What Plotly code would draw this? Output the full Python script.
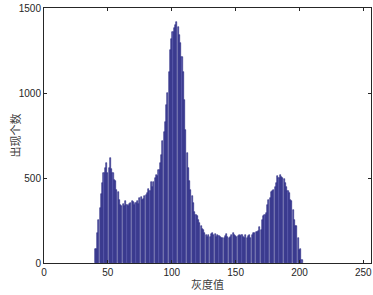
import plotly.graph_objects as go

gray_start = 40
counts = [
    82, 85, 176, 255, 323, 407, 470, 528, 560, 591,      # 40-49
    528, 558, 620, 552, 532, 490, 484, 430, 415, 372,    # 50-59
    343, 333, 348, 333, 362, 343, 337, 348, 355, 362,    # 60-69
    356, 343, 352, 362, 348, 382, 388, 372, 376, 392,    # 70-79
    401, 411, 435, 421, 474, 446, 474, 500, 519, 509,    # 80-89
    548, 587, 636, 715, 770, 832, 930, 1000, 1126, 1253, # 90-99
    1316, 1360, 1380, 1400, 1420, 1390, 1341, 1292, 1214, 1126,  # 100-109
    960, 783, 646, 558, 480, 430, 392, 352, 300, 285,    # 110-119
    274, 255, 235, 215, 200, 196, 176, 166, 153, 166,    # 120-129
    153, 170, 176, 166, 170, 153, 166, 157, 153, 145,    # 130-139
    145, 150, 157, 168, 151, 145, 153, 164, 176, 166,    # 140-149
    157, 153, 160, 164, 157, 164, 153, 145, 164, 145,    # 150-159
    157, 164, 149, 165, 176, 176, 180, 180, 186, 211,    # 160-169
    196, 255, 274, 284, 294, 343, 372, 382, 415, 421,    # 170-179
    431, 450, 470, 509, 499, 519, 505, 499, 493, 470,    # 180-189
    450, 421, 411, 372, 362, 313, 255, 215, 215, 147,    # 190-199
    78, 82, 16,                                          # 200-202
]
grays = list(range(gray_start, gray_start + len(counts)))

x_ticks = [0, 50, 100, 150, 200, 250]
y_ticks = [0, 500, 1000, 1500]
x_title = "灰度值"
y_title = "出现个数"

fig = go.Figure(go.Bar(
    x=grays, y=counts, width=0.85,
    marker=dict(color="#5b5bab", line=dict(color="#22227e", width=0.6)),
))

axis_common = dict(
    showline=True, linecolor="#262626", linewidth=1, mirror="ticks",
    ticks="inside", ticklen=3, tickcolor="#262626", showgrid=False,
    zeroline=False, automargin=False,
    tickfont=dict(family="Liberation Sans, Arial", size=10, color="#262626"),
)

title_font = dict(family="Noto Sans CJK SC", size=11, color="#404040")

fig.update_layout(
    width=373, height=295,
    margin=dict(l=44, r=2, t=8, b=32),
    paper_bgcolor="white", plot_bgcolor="white",
    bargap=0, showlegend=False,
    xaxis=dict(range=[0, 256], tickvals=x_ticks, **axis_common),
    yaxis=dict(range=[0, 1500], tickvals=y_ticks, **axis_common),
    annotations=[
        dict(text=x_title, xref="paper", yref="paper", x=0.5, y=0,
             yshift=-21, xanchor="center", yanchor="middle",
             showarrow=False, font=title_font),
        dict(text=y_title, xref="paper", yref="paper", x=0, y=0.5,
             xshift=-30, xanchor="center", yanchor="middle", textangle=-90,
             showarrow=False, font=title_font),
    ],
)

fig.write_html("out.html", config={"displayModeBar": False},
               post_script="document.body.style.margin='0';document.body.style.overflow='hidden';")
